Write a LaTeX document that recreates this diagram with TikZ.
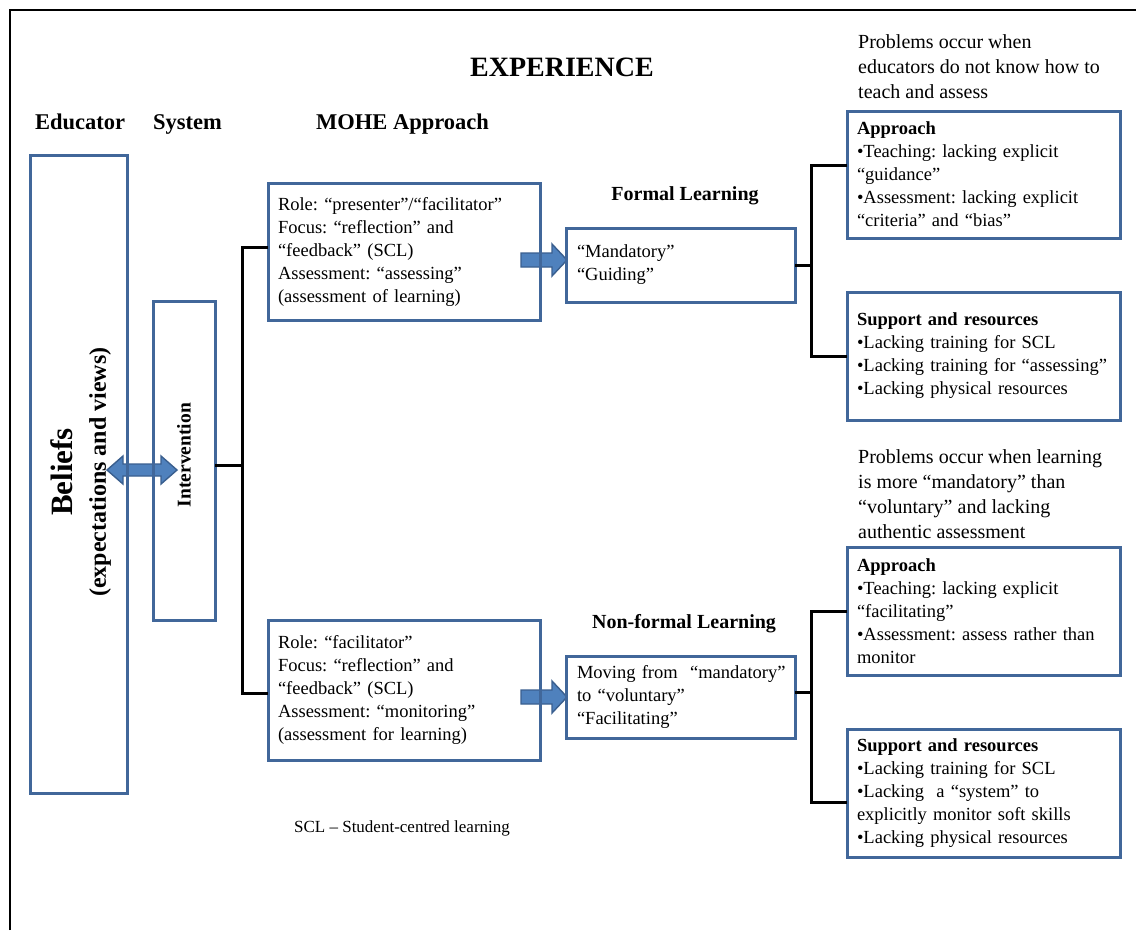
\documentclass[tikz,border=0pt]{standalone}
\usepackage{fontspec}
\setmainfont{Liberation Serif}
\definecolor{boxblue}{HTML}{41679A}
\definecolor{arrowfill}{HTML}{4F81BD}
\definecolor{arrowline}{HTML}{3A5F8F}
\frenchspacing
\begin{document}
\begin{tikzpicture}[x=1pt,y=-1pt,
  box/.style={draw=boxblue, line width=3pt, inner xsep=10pt, inner ysep=0pt,
    outer sep=0pt, align=left, font=\fontsize{18.5}{23}\selectfont},
  conn/.style={draw=black, line width=3pt, line join=miter},
  blockarrow/.style={fill=arrowfill, draw=arrowline, line width=1.4pt, line join=miter},
  head/.style={font=\fontsize{22.5}{27}\selectfont\bfseries, inner sep=0pt, anchor=base west},
  sub/.style={font=\fontsize{20}{24}\selectfont\bfseries, inner sep=0pt, anchor=base},
  note/.style={font=\fontsize{20}{25}\selectfont, inner sep=0pt, anchor=west, align=left}]

\useasboundingbox (0,0) rectangle (1136,930);
\fill[white] (0,0) rectangle (1136,930);
\draw[line width=2.2pt] (10,930) -- (10,10) -- (1136,10);

% headings
\node[font=\fontsize{28}{32}\selectfont\bfseries, inner sep=0pt, anchor=base] (title) at (562,76.5) {EXPERIENCE};
\node[head] (hEdu) at (35,129.5) {Educator};
\node[head] (hSys) at (153,129.5) {System};
\node[head] (hMohe) at (316,129.5) {MOHE Approach};
\node[sub] (hFormal) at (685,200) {Formal Learning};
\node[sub] (hNonformal) at (684,628) {Non-formal Learning};

% problem statements
\node[note] (probA) at (858,67) {Problems occur when\\educators do not know how to\\teach and assess};
\node[note] (probB) at (858,494) {Problems occur when learning\\is more “mandatory” than\\“voluntary” and lacking\\authentic assessment};

% block arrows
\filldraw[blockarrow] (107,470) -- (123,456) -- (123,464) -- (161,464) -- (161,456)
  -- (177,470) -- (161,484) -- (161,476) -- (123,476) -- (123,484) -- cycle;
\filldraw[blockarrow] (521,253) -- (552,253) -- (552,244) -- (567,260) -- (552,276)
  -- (552,267) -- (521,267) -- cycle;
\filldraw[blockarrow] (521,690) -- (552,690) -- (552,681) -- (567,697) -- (552,713)
  -- (552,704) -- (521,704) -- cycle;

% educator and system
\node[box, minimum width=97pt, minimum height=638pt, inner sep=0pt] (beliefs) at (78.5,474) {};
\node[rotate=90, align=center, inner sep=0pt, font=\fontsize{24}{33}\selectfont\bfseries] (beliefsLabel) at (81,472)
  {{\fontsize{31}{33}\selectfont Beliefs}\\(expectations and views)};
\node[box, minimum width=62pt, minimum height=319pt, inner sep=0pt] (interv) at (184,460.5) {};
\node[rotate=90, inner sep=0pt, font=\fontsize{19.5}{24}\selectfont\bfseries] (intervLabel) at (184,455) {Intervention};

% MOHE approach
\node[box, text width=252pt, minimum height=137pt] (tl) at (404,251.5)
  {Role: “presenter”/“facilitator”\\Focus: “reflection” and\\“feedback” (SCL)\\Assessment: “assessing”\\(assessment of learning)};
\node[box, text width=252pt, minimum height=140pt] (bl) at (404,690)
  {Role: “facilitator”\\Focus: “reflection” and\\“feedback” (SCL)\\Assessment: “monitoring”\\(assessment for learning)};

% learning modes
\node[box, inner xsep=11pt, text width=207pt, minimum height=74pt] (mt) at (680.5,265)
  {“Mandatory”\\“Guiding”};
\node[box, inner xsep=11pt, text width=207pt, minimum height=82pt] (mb) at (680.5,697)
  {\mbox{Moving from\ \ “mandatory”}\\to “voluntary”\\“Facilitating”};

% problems
\node[box, text width=253pt, minimum height=127pt] (ra) at (983.5,174.5)
  {\textbf{Approach}\\•Teaching: lacking explicit\\“guidance”\\•Assessment: lacking explicit\\“criteria” and “bias”};
\node[box, text width=253pt, minimum height=128pt] (rs) at (983.5,356)
  {\textbf{Support and resources}\\•Lacking training for SCL\\\mbox{•Lacking training for “assessing”}\\•Lacking physical resources};
\node[box, text width=253pt, minimum height=128pt] (rba) at (983.5,611)
  {\textbf{Approach}\\•Teaching: lacking explicit\\“facilitating”\\•Assessment: assess rather than\\monitor};
\node[box, text width=253pt, minimum height=128pt] (rbs) at (983.5,793)
  {\textbf{Support and resources}\\•Lacking training for SCL\\•Lacking\ \ a “system” to\\explicitly monitor soft skills\\•Lacking physical resources};

% footnote
\node[font=\fontsize{17}{20}\selectfont, inner sep=0pt] (scl) at (402,828) {SCL – Student-centred learning};

% connectors
\coordinate (hub) at (242,465);
\coordinate (hubA) at (811,265);
\coordinate (hubB) at (811,692);
\draw[conn] ([yshift=-4.5pt]interv.east) -- (hub);
\draw[conn] ([yshift=4.5pt]tl.west) -| (hub) |- ([yshift=-3pt]bl.west);
\draw[conn] (mt.east) -- (hubA);
\draw[conn] ([yshift=9.5pt]ra.west) -| (hubA) |- (rs.west);
\draw[conn] ([yshift=5pt]mb.east) -- (hubB);
\draw[conn] (rba.west) -| (hubB) |- ([yshift=-9pt]rbs.west);
\end{tikzpicture}
\end{document}
